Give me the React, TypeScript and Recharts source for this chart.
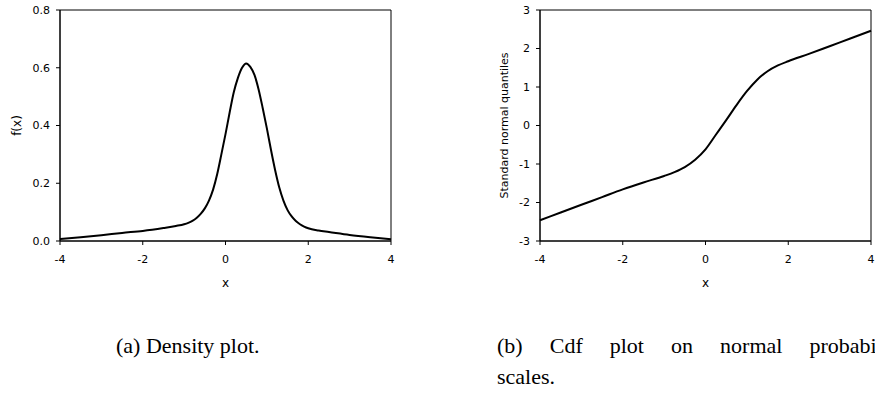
import { Label, LineChart, Line, ReferenceArea, XAxis, YAxis } from "recharts";

// density plot (a)
const densityX = [
  -4, -3.5, -3, -2.5, -2, -1.5, -1.2, -1, -0.9, -0.8, -0.7, -0.6, -0.5, -0.4,
  -0.3, -0.2, -0.1, 0, 0.1, 0.2, 0.3, 0.4, 0.5, 0.6, 0.7, 0.8, 0.9, 1, 1.1,
  1.2, 1.3, 1.4, 1.5, 1.6, 1.7, 1.8, 1.9, 2, 2.25, 2.5, 3, 3.5, 4,
];
const densityY = [
  0.007, 0.013, 0.02, 0.028, 0.035, 0.045, 0.052, 0.058, 0.063, 0.07, 0.08,
  0.094, 0.113, 0.14, 0.178, 0.232, 0.3, 0.37, 0.445, 0.515, 0.565, 0.6, 0.615,
  0.603, 0.575, 0.525, 0.46, 0.39, 0.315, 0.245, 0.185, 0.14, 0.107, 0.085,
  0.069, 0.058, 0.05, 0.044, 0.036, 0.031, 0.021, 0.013, 0.006,
];
const densityTicks = [0, 0.2, 0.4, 0.6, 0.8];

// cdf on normal probability scale (b)
const cdfX = [
  -4, -3.5, -3, -2.5, -2, -1.5, -1, -0.75, -0.5, -0.25, 0, 0.25, 0.5, 0.75, 1,
  1.25, 1.5, 1.75, 2, 2.5, 3, 3.5, 4,
];
const cdfY = [
  -2.46, -2.26, -2.06, -1.86, -1.66, -1.48, -1.31, -1.21, -1.08, -0.89, -0.62,
  -0.24, 0.14, 0.53, 0.89, 1.19, 1.41, 1.56, 1.67, 1.86, 2.06, 2.26, 2.46,
];
const cdfTicks = [-3, -2, -1, 0, 1, 2, 3];

const xTicks = [-4, -2, 0, 2, 4];

const densityData = densityX.map((x, i) => ({ x, y: densityY[i] }));
const cdfData = cdfX.map((x, i) => ({ x, y: cdfY[i] }));

const FONT = "'DejaVu Sans', sans-serif";
const SERIF = "'Liberation Serif', serif";
const tickStyle = { fontSize: 11, fill: "#000", fontFamily: FONT };

function yTitle(text: string, cx: number, size: number) {
  return (props: any) => {
    const vb = props.viewBox || { y: 10, height: 231 };
    const cy = vb.y + vb.height / 2;
    return (
      <text
        x={cx}
        y={cy}
        transform={`rotate(-90 ${cx} ${cy})`}
        textAnchor="middle"
        dominantBaseline="central"
        fontSize={size}
        fontFamily={FONT}
        fill="#000"
      >
        {text}
      </text>
    );
  };
}

function Panel(props: {
  data: { x: number; y: number }[];
  yTicks: number[];
  yDomain: [number, number];
  yFmt: (v: number) => string;
  yWidth: number;
  width: number;
  right: number;
  title: string;
  titleX: number;
  titleSize: number;
}) {
  const { data, yTicks, yDomain, yFmt } = props;
  return (
    <LineChart
      width={props.width}
      height={300}
      data={data}
      margin={{ top: 10, right: props.right, bottom: 9, left: 0 }}
    >
      <ReferenceArea
        x1={-4}
        x2={4}
        y1={yDomain[0]}
        y2={yDomain[1]}
        fill="none"
        stroke="#000"
        strokeWidth={1}
      />
      <XAxis
        dataKey="x"
        type="number"
        domain={[-4, 4]}
        ticks={xTicks}
        tick={tickStyle}
        tickSize={4}
        tickMargin={10}
        axisLine={{ stroke: "#000" }}
        tickLine={{ stroke: "#000" }}
        height={50}
      >
        <Label
          value="x"
          position="insideBottom"
          offset={4}
          fontSize={12}
          fontFamily={FONT}
          fill="#000"
        />
      </XAxis>
      <YAxis
        type="number"
        domain={yDomain}
        ticks={yTicks}
        tickFormatter={yFmt}
        tick={tickStyle}
        tickSize={4}
        tickMargin={6}
        axisLine={{ stroke: "#000" }}
        tickLine={{ stroke: "#000" }}
        width={props.yWidth}
        interval={0}
      >
        <Label content={yTitle(props.title, props.titleX, props.titleSize)} />
      </YAxis>
      <Line
        type="monotone"
        dataKey="y"
        stroke="#000"
        strokeWidth={2}
        dot={false}
        isAnimationActive={false}
      />
    </LineChart>
  );
}

const captionStyle = {
  position: "absolute" as const,
  fontFamily: SERIF,
  fontSize: 22,
  lineHeight: "31px",
  color: "#000",
  whiteSpace: "nowrap" as const,
};

export default function App() {
  return (
    <div
      style={{
        position: "absolute",
        left: 0,
        top: 0,
        width: 875,
        height: 419,
        overflow: "hidden",
        background: "#fff",
      }}
    >
      <div style={{ position: "absolute", left: 0, top: 0 }}>
        <Panel
          data={densityData}
          yTicks={densityTicks}
          yDomain={[0, 0.8]}
          yFmt={(v) => v.toFixed(1)}
          yWidth={60}
          width={420}
          right={29}
          title="f(x)"
          titleX={17}
          titleSize={12}
        />
      </div>
      <div style={{ position: "absolute", left: 440, top: 0 }}>
        <Panel
          data={cdfData}
          yTicks={cdfTicks}
          yDomain={[-3, 3]}
          yFmt={(v) => String(v)}
          yWidth={100}
          width={435}
          right={4}
          title="Standard normal quantiles"
          titleX={64}
          titleSize={11}
        />
      </div>
      <div style={{ ...captionStyle, left: 116, top: 330 }}>
        (a) Density plot.
      </div>
      <div
        style={{
          ...captionStyle,
          left: 497,
          top: 330,
          width: 409,
          textAlign: "justify",
          textAlignLast: "justify",
        }}
      >
        (b) Cdf plot on normal probability
      </div>
      <div style={{ ...captionStyle, left: 497, top: 361 }}>scales.</div>
    </div>
  );
}
